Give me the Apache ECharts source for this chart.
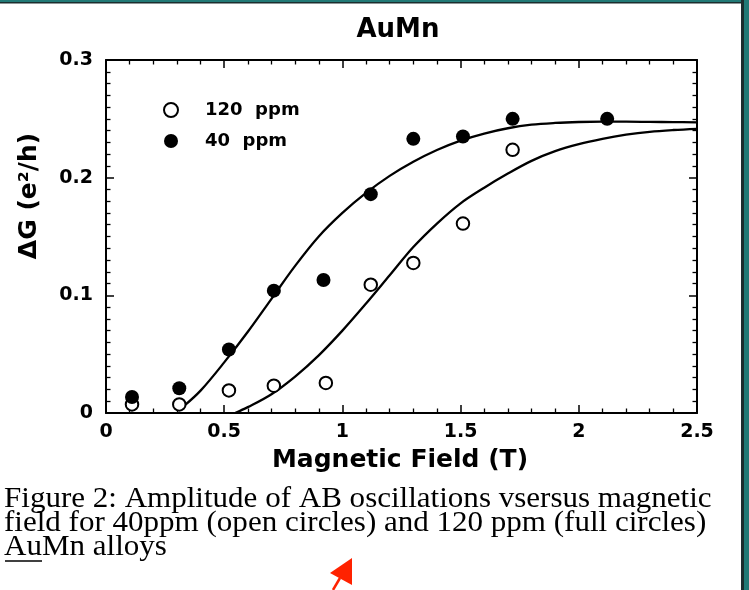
<!DOCTYPE html>
<html>
<head>
<meta charset="utf-8">
<script src="https://cdn.jsdelivr.net/npm/echarts@6/dist/echarts.min.js"></script>
<style>
html,body{margin:0;padding:0;background:#fff;}
#chart{width:749px;height:590px;}
</style>
</head>
<body>
<div id="chart"></div>
<script>
// ---- data ----
var titleText = 'AuMn';
var xAxisName = 'Magnetic Field (T)';
var yAxisName = 'ΔG (e²/h)';
var seriesNames = ['120  ppm', '40  ppm'];

// measured points, 120 ppm (open circles)
var ppm120X = [0.11, 0.31, 0.52, 0.71, 0.93, 1.12, 1.30, 1.51, 1.72];
var ppm120Y = [0.0073, 0.0073, 0.0192, 0.0232, 0.0255, 0.109, 0.1275, 0.161, 0.2237];

// measured points, 40 ppm (full circles)
var ppm40X = [0.11, 0.31, 0.52, 0.71, 0.92, 1.12, 1.30, 1.51, 1.72, 2.12];
var ppm40Y = [0.0136, 0.021, 0.054, 0.104, 0.113, 0.186, 0.233, 0.235, 0.250, 0.250];

// fitted curves
var fit40X = [0.33, 0.40, 0.50, 0.60, 0.70, 0.80, 0.90, 1.00, 1.10, 1.20, 1.30, 1.40, 1.50, 1.60, 1.70, 1.80, 1.90, 2.00, 2.10, 2.20, 2.30, 2.40, 2.50];
var fit40Y = [0.006, 0.019, 0.043, 0.069, 0.097, 0.125, 0.150, 0.170, 0.187, 0.2015, 0.2135, 0.2235, 0.2315, 0.2375, 0.2420, 0.2450, 0.2465, 0.2473, 0.2476, 0.2476, 0.2474, 0.2472, 0.2470];

var fit120X = [0.546, 0.60, 0.70, 0.80, 0.90, 1.00, 1.10, 1.20, 1.30, 1.40, 1.50, 1.60, 1.70, 1.80, 1.90, 2.00, 2.10, 2.20, 2.30, 2.40, 2.50];
var fit120Y = [0.0, 0.005, 0.016, 0.031, 0.049, 0.070, 0.093, 0.117, 0.141, 0.161, 0.1782, 0.1915, 0.2035, 0.2143, 0.2225, 0.2285, 0.2330, 0.2365, 0.2390, 0.2405, 0.2415];

var captionLines = [
  'Figure 2: Amplitude of AB oscillations vsersus magnetic',
  'field for 40ppm (open circles) and 120 ppm (full circles)',
  'AuMn alloys'
];

function zip(xs, ys) { return xs.map(function (x, i) { return [x, ys[i]]; }); }

var chart = echarts.init(document.getElementById('chart'), null, {renderer: 'canvas'});
var SANS = '"DejaVu Sans", sans-serif';
var SERIF = '"Liberation Serif", "DejaVu Serif", serif';
var teal = '#217a76';
var dark = '#1b2e2e';

function axisCommon(extra) {
  return Object.assign({
    type: 'value',
    axisLine: {show: true, onZero: false, lineStyle: {color: '#000', width: 2}},
    axisTick: {show: true, inside: true, length: 8, lineStyle: {color: '#000', width: 1.5}},
    splitLine: {show: false},
    minorSplitLine: {show: false}
  }, extra);
}

var labelStyle = {color: '#000', fontSize: 19, fontWeight: 'bold', fontFamily: SANS};
function minor(n) { return {show: true, splitNumber: n, length: 4.5, lineStyle: {color: '#000', width: 1.3}}; }

var option = {
  backgroundColor: '#fff',
  animation: false,
  grid: {left: 106, top: 60, right: 52, bottom: 177, containLabel: false},
  xAxis: [
    axisCommon({position: 'bottom', min: 0, max: 2.5, interval: 0.5, minorTick: minor(5),
      axisLabel: Object.assign({margin: 10}, labelStyle)}),
    axisCommon({position: 'top', min: 0, max: 2.5, interval: 0.5, minorTick: minor(5),
      axisLabel: {show: false}})
  ],
  yAxis: [
    axisCommon({position: 'left', min: 0, max: 0.3, interval: 0.1, minorTick: minor(10),
      axisLabel: Object.assign({margin: 13}, labelStyle)}),
    axisCommon({position: 'right', min: 0, max: 0.3, interval: 0.1, minorTick: minor(10),
      axisLabel: {show: false}})
  ],
  legend: {
    orient: 'vertical',
    left: 163, top: 101,
    padding: 0,
    itemWidth: 14, itemHeight: 14,
    itemGap: 13,
    icon: 'circle',
    data: seriesNames,
    textStyle: {color: '#000', fontSize: 18, fontWeight: 'bold', fontFamily: SANS, padding: [0, 0, 0, 22]}
  },
  series: [
    {
      name: 'fit40', type: 'line', data: zip(fit40X, fit40Y), smooth: 0.35,
      showSymbol: false, symbol: 'none', silent: true, z: 2,
      lineStyle: {color: '#000', width: 2.3}
    },
    {
      name: 'fit120', type: 'line', data: zip(fit120X, fit120Y), smooth: 0.35,
      showSymbol: false, symbol: 'none', silent: true, z: 2,
      lineStyle: {color: '#000', width: 2.3}
    },
    {
      name: seriesNames[0], type: 'scatter', data: zip(ppm120X, ppm120Y), z: 5,
      symbol: 'circle', symbolSize: 12.5,
      itemStyle: {color: '#fff', borderColor: '#000', borderWidth: 2, opacity: 1}
    },
    {
      name: seriesNames[1], type: 'scatter', data: zip(ppm40X, ppm40Y), z: 5,
      symbol: 'circle', symbolSize: 14,
      itemStyle: {color: '#000', borderColor: '#000', borderWidth: 0, opacity: 1}
    }
  ],
  graphic: [
    // frame
    {type: 'rect', shape: {x: 0, y: 0, width: 749, height: 2}, style: {fill: teal}, silent: true},
    {type: 'rect', shape: {x: 0, y: 2, width: 742, height: 1.5}, style: {fill: dark}, silent: true},
    {type: 'rect', shape: {x: 741, y: 0, width: 3, height: 590}, style: {fill: dark}, silent: true},
    {type: 'rect', shape: {x: 744, y: 0, width: 5, height: 590}, style: {fill: teal}, silent: true},
    // title
    {type: 'text', x: 398, y: 30, style: {text: titleText, fill: '#000', font: 'bold 26px ' + SANS, textAlign: 'center', textVerticalAlign: 'middle'}},
    // axis names
    {type: 'text', x: 400, y: 460, style: {text: xAxisName, fill: '#000', font: 'bold 25px ' + SANS, textAlign: 'center', textVerticalAlign: 'middle'}},
    {type: 'text', x: 29, y: 196, rotation: Math.PI / 2, style: {text: yAxisName, fill: '#000', font: 'bold 25px ' + SANS, textAlign: 'center', textVerticalAlign: 'middle'}},
    // caption
    {type: 'text', x: 4, y: 499, scaleX: 1.07, style: {text: captionLines[0], fill: '#000', font: '29px ' + SERIF, textAlign: 'left', textVerticalAlign: 'middle'}},
    {type: 'text', x: 4, y: 523, scaleX: 1.07, style: {text: captionLines[1], fill: '#000', font: '29px ' + SERIF, textAlign: 'left', textVerticalAlign: 'middle'}},
    {type: 'text', x: 4, y: 547, scaleX: 1.07, style: {text: captionLines[2], fill: '#000', font: '29px ' + SERIF, textAlign: 'left', textVerticalAlign: 'middle'}},
    {type: 'line', shape: {x1: 5, y1: 561, x2: 42, y2: 561}, style: {stroke: '#000', lineWidth: 1.5}},
    // red arrow
    {type: 'polygon', shape: {points: [[330, 573], [352, 558], [352, 585]]}, style: {fill: '#ff2200'}},
    {type: 'line', shape: {x1: 340, y1: 578, x2: 333, y2: 590}, style: {stroke: '#ff2200', lineWidth: 2.5}}
  ]
};
chart.setOption(option);
</script>
</body>
</html>
